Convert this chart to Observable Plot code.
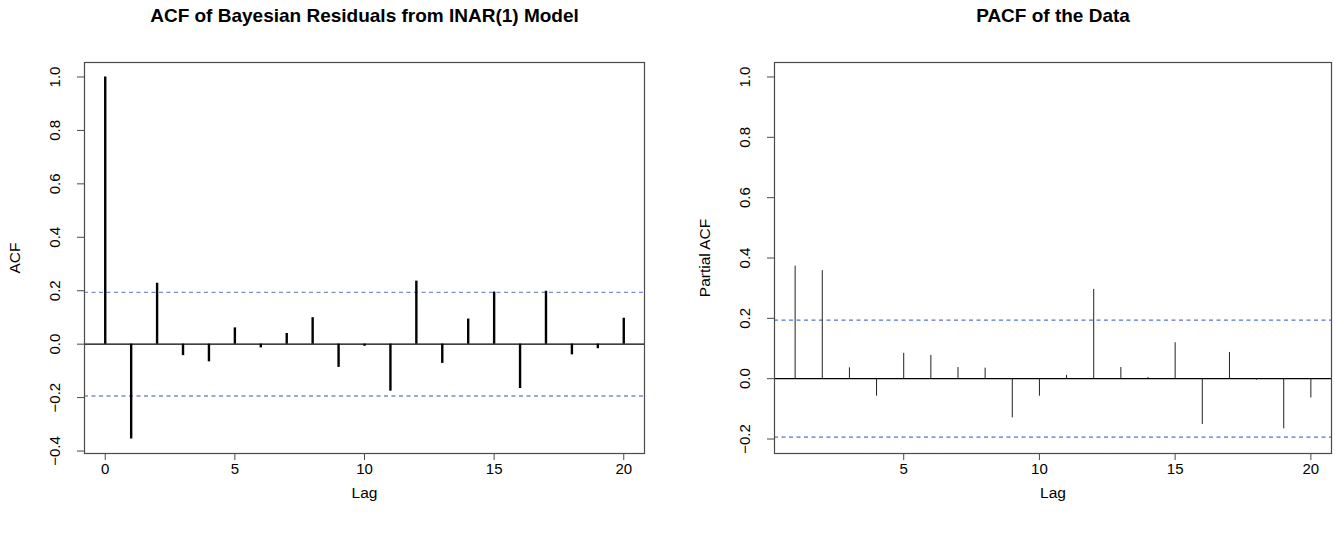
<!DOCTYPE html>
<html>
<head>
<meta charset="utf-8">
<script src="https://cdn.jsdelivr.net/npm/d3@7"></script>
<script src="https://cdn.jsdelivr.net/npm/@observablehq/plot@0.6"></script>
<style>
  html, body { margin: 0; padding: 0; background: #fff; }
  #chart { display: flex; width: 1335px; height: 535px; }
  #chart svg { display: block; font-family: "Liberation Sans", Arial, Helvetica, sans-serif; }
</style>
</head>
<body>
<div id="chart"></div>
<script>
// Sample ACF of the Bayesian residuals (lags 0..20)
const acfLag = [0, 1, 2, 3, 4, 5, 6, 7, 8, 9, 10, 11, 12, 13, 14, 15, 16, 17, 18, 19, 20];
const acfValue = [1.0, -0.355, 0.228, -0.043, -0.066, 0.061, -0.014, 0.040, 0.099, -0.087,
                  -0.008, -0.176, 0.236, -0.072, 0.094, 0.195, -0.166, 0.198, -0.040, -0.017, 0.097];

// Sample PACF of the data (lags 1..20)
const pacfLag = [1, 2, 3, 4, 5, 6, 7, 8, 9, 10, 11, 12, 13, 14, 15, 16, 17, 18, 19, 20];
const pacfValue = [0.373, 0.358, 0.036, -0.058, 0.084, 0.077, 0.037, 0.035, -0.130, -0.058,
                   0.011, 0.296, 0.037, 0.004, 0.119, -0.152, 0.087, -0.005, -0.166, -0.064];

// Approximate 95% confidence bound, 1.96 / sqrt(n) with n = 102
const confBound = 0.194;

const acfXTicks = [0, 5, 10, 15, 20];
const pacfXTicks = [5, 10, 15, 20];
const acfYTicks = [-0.4, -0.2, 0.0, 0.2, 0.4, 0.6, 0.8, 1.0];
const pacfYTicks = [-0.2, 0.0, 0.2, 0.4, 0.6, 0.8, 1.0];

const titles = ["ACF of Bayesian Residuals from INAR(1) Model", "PACF of the Data"];
const yLabels = ["ACF", "Partial ACF"];
const xLabel = "Lag";

// R-style 4% padding on each side of a range
function pad([lo, hi]) {
  const d = (hi - lo) * 0.04;
  return [lo - d, hi + d];
}

function panel({lags, values, xTicks, yTicks, yRange, title, yLabel,
                width, marginLeft, marginRight, barWidth, barColor, dashColor, yLabelX}) {
  const rows = lags.map((lag, i) => ({lag, value: values[i]}));
  const axisColor = "#4a4a4a";
  const fmt = d => d.toFixed(1).replace("-", "\u2212");
  return Plot.plot({
    width,
    height: 535,
    marginLeft,
    marginRight,
    marginTop: 62,
    marginBottom: 82,
    x: {domain: pad(d3.extent(lags)), axis: null},
    y: {domain: pad(yRange), axis: null},
    style: {fontFamily: "'Liberation Sans', Arial, Helvetica, sans-serif", background: "#fff"},
    marks: [
      // confidence bounds
      Plot.ruleY([confBound, -confBound], {stroke: dashColor, strokeWidth: 1.3, strokeDasharray: "4,3.5"}),
      // zero line
      Plot.ruleY([0], {stroke: "#000", strokeWidth: 1.2}),
      // spikes
      Plot.ruleX(rows, {x: "lag", y1: 0, y2: "value", stroke: barColor, strokeWidth: barWidth}),
      Plot.frame({stroke: axisColor, strokeWidth: 1.2}),
      // x axis ticks and labels
      Plot.axisX({ticks: xTicks, tickSize: 7, tickPadding: 3, fontSize: 15, stroke: axisColor,
                  fill: "#000", tickFormat: d => String(d), label: null}),
      // y axis ticks
      Plot.axisY({ticks: yTicks, tickSize: 7, stroke: axisColor, tickFormat: () => "", label: null}),
      // rotated y tick labels
      Plot.text(yTicks, {y: d => d, text: fmt, frameAnchor: "left", dx: -(marginLeft - yLabelX - 40),
                         rotate: -90, textAnchor: "middle", lineAnchor: "middle", fontSize: 15, fill: "#000"}),
      // axis titles
      Plot.text([xLabel], {frameAnchor: "bottom", dy: 40, fontSize: 15.5, lineAnchor: "middle", fill: "#000"}),
      Plot.text([yLabel], {frameAnchor: "left", dx: -(marginLeft - yLabelX), rotate: -90,
                           textAnchor: "middle", lineAnchor: "middle", fontSize: 15.5, fill: "#000"}),
      // panel title
      Plot.text([title], {frameAnchor: "top", dy: -47, fontSize: 19, fontWeight: "bold",
                          lineAnchor: "middle", fill: "#000"})
    ]
  });
}

const chart = document.getElementById("chart");

chart.append(panel({
  lags: acfLag, values: acfValue, xTicks: acfXTicks, yTicks: acfYTicks,
  yRange: [d3.min(acfValue), 1.0], title: titles[0], yLabel: yLabels[0],
  width: 668, marginLeft: 84, marginRight: 24, barWidth: 2.4, barColor: "#000",
  dashColor: "#7e8ccb", yLabelX: 15
}));

chart.append(panel({
  lags: pacfLag, values: pacfValue, xTicks: pacfXTicks, yTicks: pacfYTicks,
  yRange: [-0.2, 1.0], title: titles[1], yLabel: yLabels[1],
  width: 667, marginLeft: 106, marginRight: 4, barWidth: 1, barColor: "#222",
  dashColor: "#5573dc", yLabelX: 37
}));
</script>
</body>
</html>
